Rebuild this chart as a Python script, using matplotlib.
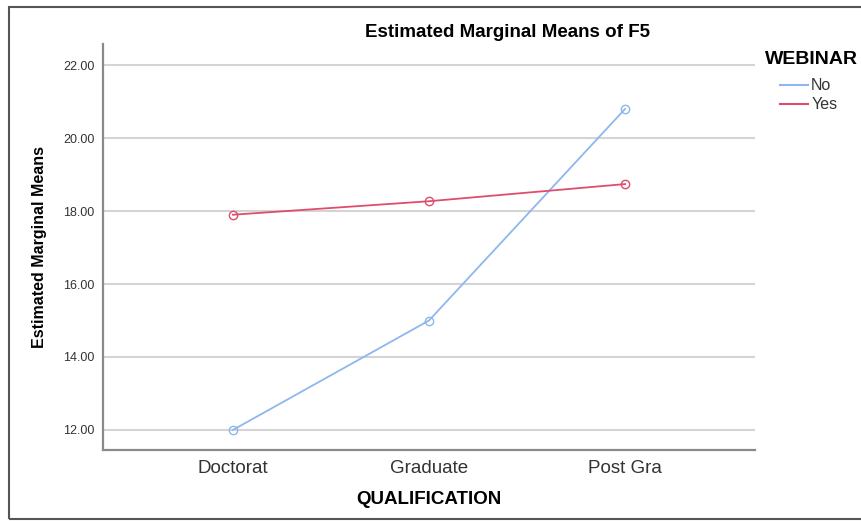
import matplotlib.pyplot as plt
from matplotlib.patches import Rectangle
from matplotlib.lines import Line2D

plt.rcParams['font.family'] = ['Liberation Sans', 'DejaVu Sans']

categories = ['Doctorat', 'Graduate', 'Post Gra']
no_means = [12.0, 15.0, 20.8]
yes_means = [17.9, 18.27, 18.74]
yticks = [12, 14, 16, 18, 20, 22]
c_no = '#8db7ee'
c_yes = '#e04d6c'

fig = plt.figure(figsize=(8.61, 5.21), dpi=100)
ax = fig.add_axes([0.1196, 0.1363, 0.7573, 0.7792])

x = list(range(len(categories)))
ax.plot(x, no_means, color=c_no, lw=1.3, marker='o', ms=6,
        mfc='none', mec=c_no, zorder=3)
ax.plot(x, yes_means, color=c_yes, lw=1.3, marker='o', ms=6,
        mfc='none', mec=c_yes, zorder=3)

ax.set_xlim(-0.663, 2.663)
ax.set_ylim(11.45, 22.58)
ax.set_xticks(x)
ax.set_xticklabels(categories, fontsize=13.5, color='#333333')
ax.set_yticks(yticks)
ax.set_yticklabels(['%.2f' % v for v in yticks], fontsize=9, color='#333333')
ax.tick_params(length=0, pad=6)
ax.tick_params(axis='x', pad=7)
ax.grid(axis='y', color='#d4d4d4', lw=1.5)
ax.set_axisbelow(True)

for s in ['top', 'right']:
    ax.spines[s].set_visible(False)
for s in ['left', 'bottom']:
    ax.spines[s].set_color('#8a8a8a')
    ax.spines[s].set_linewidth(1.6)

ax.set_xlabel('QUALIFICATION', fontsize=13.5, fontweight='bold', labelpad=10)
ax.set_ylabel('Estimated Marginal Means', fontsize=11.5, fontweight='bold', labelpad=12)
fig.text(0.59, 0.938, 'Estimated Marginal Means of F5', fontsize=13.5,
         fontweight='bold', ha='center', va='center')

# legend
fig.text(0.888, 0.885, 'WEBINAR', fontsize=14, fontweight='bold', ha='left', va='center')
handles = [Line2D([], [], color=c_no, lw=1.5), Line2D([], [], color=c_yes, lw=1.5)]
leg = fig.legend(handles, ['No', 'Yes'], loc='upper left',
                 bbox_to_anchor=(0.906, 0.85), frameon=False, fontsize=11.5,
                 handlelength=1.75, handletextpad=0.2, labelspacing=0.25,
                 borderaxespad=0, borderpad=0)
for t in leg.get_texts():
    t.set_color('#333333')

fig.patches.append(Rectangle((0.0105, 0.003), 1.2, 0.984, transform=fig.transFigure,
                             fill=False, edgecolor='#555555', lw=1.5))

fig.savefig('out.png', dpi=100)
